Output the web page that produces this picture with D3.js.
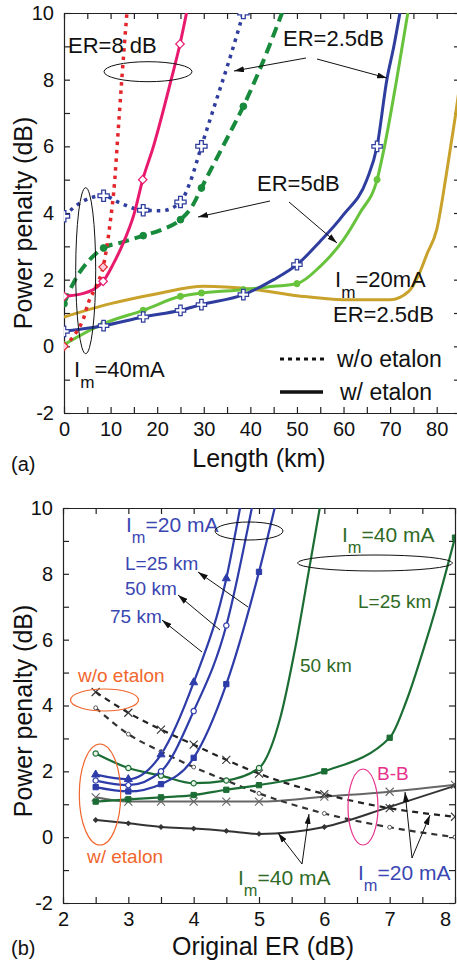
<!DOCTYPE html>
<html><head><meta charset="utf-8">
<script src="https://cdn.jsdelivr.net/npm/d3@7"></script>
<style>
html,body{margin:0;padding:0;background:#fff;overflow:hidden}
svg{display:block}
svg text{font-family:"Liberation Sans",Arial,Helvetica,sans-serif}
</style>
</head><body>
<svg id="c" width="457" height="964"></svg>
<script>
// ---------------- Panel (a) data: Length (km) vs Power penalty (dB)
const aXTicks = [0,5,10,15,20,25,30,35,40,45,50,55,60,65,70,75,80,85];
const aXLabels = [0,10,20,30,40,50,60,70,80];
const aYTicks = [-2,-1,0,1,2,3,4,5,6,7,8,9,10];
const aYLabels = [-2,0,2,4,6,8,10];

// ER=8 dB, w/o etalon (red dotted)
const er8NoEt = [[0,0],[3,0.5],[4.1,0.8],[5.2,1.3],[6.7,1.75],[8.4,2.38],[9.9,3.7],[10.9,5.0],[11.4,6.0],[12.4,8.0],[13.5,10]];
const er8NoEtMk = [[0,0],[8.4,2.38]];
// ER=8 dB, w/ etalon (magenta solid)
const er8Et = [[0,1.5],[4,1.58],[8.4,1.95],[10.5,2.45],[12.4,3.0],[15,3.95],[16.9,5.0],[19.2,6.0],[23,8.0],[24.9,9.07],[26.3,10]];
const er8EtMk = [[0,1.5],[8.4,1.95],[16.9,5.0],[24.9,9.07]];
// ER=2.5 dB, w/o etalon (blue dotted)
const er25NoEt = [[0,3.9],[4,4.35],[8.5,4.52],[12,4.3],[17,4.08],[21,4.07],[25,4.33],[27,4.9],[29.5,6.0],[32.5,7.3],[35.5,8.6],[38.5,10]];
const er25NoEtMk = [[0,3.9],[8.5,4.52],[17,4.08],[25,4.33],[29.5,6.0],[38.5,10]];
// ER=5 dB, w/o etalon (green dashed)
const er5NoEt = [[0,1.28],[2.4,2.0],[5.2,2.55],[8.5,2.95],[12.4,3.12],[17,3.32],[21,3.5],[25,3.8],[27.5,4.2],[29.5,4.75],[33,5.7],[35.6,6.4],[38.5,7.2],[42,8.3],[46.8,10]];
const er5NoEtMk = [[0,1.28],[8.5,2.95],[17,3.32],[25,3.8],[29.5,4.75],[38.5,7.2]];
// ER=2.5 dB, w/ etalon (blue solid)
const er25Et = [[0,0.45],[8.5,0.62],[17,0.88],[25,1.08],[29.5,1.25],[38.5,1.55],[45,2.0],[50,2.45],[55,3.15],[60,3.95],[65,5.0],[67.2,6.0],[69.3,8.0],[70.8,9.0],[72.1,10]];
const er25EtMk = [[0,0.45],[8.5,0.62],[17,0.88],[25,1.08],[29.5,1.25],[38.5,1.55],[50,2.45],[67.2,6.0]];
// ER=5 dB, w/ etalon (light green solid)
const er5Et = [[0,0.05],[8.5,0.68],[17,1.08],[25,1.5],[29.5,1.6],[38.5,1.7],[45,1.8],[50,1.88],[55,2.4],[60,3.2],[63.5,4.0],[67.2,5.0],[68.8,6.0],[71.4,8.0],[73.8,10]];
const er5EtMk = [[0,0.05],[8.5,0.68],[17,1.08],[25,1.5],[29.5,1.6],[38.5,1.7],[50,1.88],[67.2,5.0]];
// Im=20 mA, ER=2.5 dB (gold solid)
const im20 = [[0,0.88],[10,1.28],[20,1.58],[30,1.8],[40,1.72],[50,1.52],[60,1.4],[70,1.4],[74,1.65],[76,2.1],[78,2.8],[80,3.5],[82,5.1],[83,6.0],[84,6.9],[85,7.9]];

// ---------------- Panel (b) data: Original ER (dB) vs Power penalty (dB)
const bXTicks = [2,2.5,3,3.5,4,4.5,5,5.5,6,6.5,7,7.5,8];
const bXLabels = [2,3,4,5,6,7,8];
const bYTicks = [-2,-1,0,1,2,3,4,5,6,7,8,9,10];
const bYLabels = [-2,0,2,4,6,8,10];

// Im=20 mA with etalon (blue)
const b20L25Mk = [[2.5,1.9],[3,1.76],[3.5,2.51],[4,4.7],[4.5,7.86]];
const b20L25 = [[2.5,1.9],[3,1.76],[3.5,2.51],[4,4.7],[4.5,7.86],[4.71,10]];
const b20L50Mk = [[2.5,1.72],[3,1.58],[3.5,2.0],[4,3.83],[4.5,6.43]];
const b20L50 = [[2.5,1.72],[3,1.58],[3.5,2.0],[4,3.83],[4.5,6.43],[4.89,10]];
const b20L75Mk = [[2.5,1.52],[3,1.39],[3.5,1.61],[4,2.41],[4.5,4.65],[5,8.06]];
const b20L75 = [[2.5,1.52],[3,1.39],[3.5,1.61],[4,2.41],[4.5,4.65],[5,8.06],[5.24,10]];
// Im=40 mA with etalon (green)
const b40L50Mk = [[2.5,2.54],[3,2.1],[3.5,1.87],[4,1.64],[4.5,1.72],[5,2.1]];
const b40L50 = [[2.5,2.54],[3,2.1],[3.5,1.87],[4,1.64],[4.5,1.72],[5,2.1],[5.32,3.58],[5.55,5.7],[5.76,8.06],[5.93,10]];
const b40L25Mk = [[2.5,1.08],[3,1.15],[3.5,1.21],[4,1.28],[4.5,1.44],[5,1.58],[6,2.0],[7,3.02],[8,9.1]];
const b40L25 = [[2.5,1.08],[3,1.15],[3.5,1.21],[4,1.28],[4.5,1.44],[5,1.58],[6,2.0],[7,3.02],[7.26,4.16],[7.52,5.72],[7.72,7.04],[8,9.1]];
// w/o etalon (dashed)
const bNo20 = [[2.5,4.41],[3,3.78],[3.5,3.27],[4,2.81],[4.5,2.35],[5,1.93],[6,1.31],[7,0.88],[8,0.62]];
const bNo40 = [[2.5,3.93],[3,3.13],[3.5,2.6],[4,2.13],[4.5,1.72],[5,1.33],[6,0.72],[7,0.3],[8,0.0]];
// back-to-back (solid grey / dark)
const bBB20 = [[2.5,1.21],[3,1.08],[3.5,1.08],[4,1.08],[4.5,1.08],[5,1.08],[6,1.23],[7,1.38],[8,1.59]];
const bBB40 = [[2.5,0.52],[3,0.42],[3.5,0.31],[4,0.26],[4.5,0.19],[5,0.1],[6,0.31],[7,0.92],[8,1.56]];

// ---------------- drawing
const svg = d3.select('#c');
const A = {l:64, r:460, t:13, b:413};
const B = {l:63, r:455, t:508, b:903};
const xA = d3.scaleLinear().domain([0,85]).range([A.l,A.r]);
const yA = d3.scaleLinear().domain([-2,10]).range([A.b,A.t]);
const xB = d3.scaleLinear().domain([2,8]).range([B.l,B.r]);
const yB = d3.scaleLinear().domain([-2,10]).range([B.b,B.t]);

const defs = svg.append('defs');
defs.append('clipPath').attr('id','clipA').append('rect').attr('x',A.l).attr('y',A.t).attr('width',A.r-A.l).attr('height',A.b-A.t);
defs.append('clipPath').attr('id','clipB').append('rect').attr('x',B.l).attr('y',B.t).attr('width',B.r-B.l).attr('height',B.b-B.t);
defs.append('marker').attr('id','arr').attr('viewBox','0 0 10 6').attr('refX',10).attr('refY',3)
  .attr('markerWidth',10).attr('markerHeight',6).attr('markerUnits','userSpaceOnUse').attr('orient','auto')
  .append('path').attr('d','M0,0L10,3L0,6Z').attr('fill','#111');

function axes(x, y, box, xVals, xLab, yVals, yLab) {
  const g = svg.append('g').attr('font-size',20);
  const fx = d => xLab.includes(d) ? String(d) : '';
  const fy = d => yLab.includes(d) ? String(d) : '';
  const xg = g.append('g').attr('transform',`translate(0,${box.b})`)
    .call(d3.axisBottom(x).tickValues(xVals).tickFormat(fx).tickSize(-6).tickSizeOuter(0).tickPadding(9));
  g.append('g').attr('transform',`translate(0,${box.t})`)
    .call(d3.axisTop(x).tickValues(xVals).tickFormat('').tickSize(-6).tickSizeOuter(0));
  g.append('g').attr('transform',`translate(${box.l},0)`)
    .call(d3.axisLeft(y).tickValues(yVals).tickFormat(fy).tickSize(-6).tickSizeOuter(0).tickPadding(10));
  g.append('g').attr('transform',`translate(${box.r},0)`)
    .call(d3.axisRight(y).tickValues(yVals).tickFormat('').tickSize(-6).tickSizeOuter(0));
  g.selectAll('text').attr('font-family','"Liberation Sans",Arial,sans-serif').attr('font-size',20).attr('fill','#111');
  g.selectAll('path,line').attr('stroke','#222').attr('stroke-width',1.2);
  // keep a label that would run past the page edge inside it
  xg.selectAll('.tick text').each(function(d) {
    const r = x(d) + 12;
    if (r > 457) d3.select(this).attr('dx', 457 - r);
  });
}
axes(xA,yA,A,aXTicks,aXLabels,aYTicks,aYLabels);
axes(xB,yB,B,bXTicks,bXLabels,bYTicks,bYLabels);

const gA = svg.append('g').attr('clip-path','url(#clipA)');
const gB = svg.append('g').attr('clip-path','url(#clipB)');

function line(g, x, y, pts, color, w, dash) {
  const l = d3.line().x(d=>x(d[0])).y(d=>y(d[1])).curve(d3.curveMonotoneX);
  g.append('path').attr('d', l(pts)).attr('fill','none').attr('stroke',color)
   .attr('stroke-width',w).attr('stroke-dasharray',dash||null).attr('stroke-linejoin','round');
}
function marks(g, x, y, pts, type, stroke, fill, size, sw) {
  const sel = g.append('g');
  pts.forEach(d => {
    const cx = x(d[0]), cy = y(d[1]);
    if (type === 'x') {
      const s = size/2;
      sel.append('path').attr('d',`M${cx-s},${cy-s}L${cx+s},${cy+s}M${cx-s},${cy+s}L${cx+s},${cy-s}`)
        .attr('stroke',stroke).attr('stroke-width',sw||1.2).attr('fill','none');
      return;
    }
    const map = {diamond:d3.symbolSquare, cross:d3.symbolCross, circle:d3.symbolCircle, triangle:d3.symbolTriangle, square:d3.symbolSquare};
    sel.append('path').attr('d', d3.symbol(map[type], size)())
      .attr('transform', `translate(${cx},${cy})` + (type==='diamond' ? ' rotate(45)' : ''))
      .attr('stroke', stroke).attr('fill', fill).attr('stroke-width', sw||1.2);
  });
}

// Panel (a) series
const C = {red:'#e3262c', mag:'#e81a6d', blue:'#2f3d9e', dgreen:'#178a3b', lgreen:'#68c33c', gold:'#c9a22b'};
line(gA,xA,yA,im20,C.gold,3);
line(gA,xA,yA,er5Et,C.lgreen,3);
line(gA,xA,yA,er25Et,C.blue,3);
line(gA,xA,yA,er5NoEt,C.dgreen,4,'11,6');
line(gA,xA,yA,er25NoEt,C.blue,3.5,'3.5,5');
line(gA,xA,yA,er8Et,C.mag,3);
line(gA,xA,yA,er8NoEt,C.red,3.5,'3.5,5');
marks(gA,xA,yA,er5EtMk,'circle',C.lgreen,C.lgreen,30,1);
marks(gA,xA,yA,er25EtMk,'cross',C.blue,'#fff',60,1.2);
marks(gA,xA,yA,er5NoEtMk,'circle',C.dgreen,C.dgreen,36,1);
marks(gA,xA,yA,er25NoEtMk,'cross',C.blue,'#fff',70,1.3);
marks(gA,xA,yA,er8EtMk,'diamond',C.mag,'#fff',36,1.2);
marks(gA,xA,yA,er8NoEtMk,'diamond',C.red,'#fcd',36,1.2);

// Panel (b) series
const CB = {blue:'#2d3ca8', green:'#1b6d34', black:'#222', grey:'#666', dark:'#333'};
line(gB,xB,yB,bBB40,CB.dark,2);
line(gB,xB,yB,bBB20,CB.grey,2);
line(gB,xB,yB,bNo40,CB.dark,2.2,'6,5');
line(gB,xB,yB,bNo20,CB.black,2.2,'6,5');
line(gB,xB,yB,b40L25,CB.green,2.2);
line(gB,xB,yB,b40L50,CB.green,2.2);
line(gB,xB,yB,b20L75,CB.blue,2.2);
line(gB,xB,yB,b20L50,CB.blue,2.2);
line(gB,xB,yB,b20L25,CB.blue,2.2);
marks(gB,xB,yB,bBB40,'diamond',CB.dark,CB.dark,10,1);
marks(gB,xB,yB,bBB20,'x',CB.grey,'none',8,1.1);
marks(gB,xB,yB,bNo40,'circle','#555','#fff',12,1);
marks(gB,xB,yB,bNo20,'x','#333','none',8,1.1);
marks(gB,xB,yB,b40L25Mk,'square',CB.green,CB.green,28,1);
marks(gB,xB,yB,b40L50Mk,'circle',CB.green,'#e8f2e8',22,1.2);
marks(gB,xB,yB,b20L75Mk,'square',CB.blue,CB.blue,28,1);
marks(gB,xB,yB,b20L50Mk,'circle',CB.blue,'#fff',22,1.2);
marks(gB,xB,yB,b20L25Mk,'triangle',CB.blue,CB.blue,28,1);

// ---------------- annotations
const ann = svg.append('g');
function txt(x, y, s, size, color, anchor) {
  return ann.append('text').attr('x',x).attr('y',y).attr('font-size',size).attr('fill',color||'#111')
    .attr('text-anchor',anchor||'start').text(s);
}
function subTxt(x, y, rest, size, color) {
  const t = ann.append('text').attr('x',x).attr('y',y).attr('font-size',size).attr('fill',color||'#111');
  t.append('tspan').text('I');
  t.append('tspan').attr('font-size',size*0.78).attr('dy',size*0.5).text('m');
  t.append('tspan').attr('dy',-size*0.5).text(rest);
}
function ell(cx, cy, rx, ry, color, w) {
  ann.append('ellipse').attr('cx',cx).attr('cy',cy).attr('rx',rx).attr('ry',ry)
    .attr('fill','none').attr('stroke',color||'#111').attr('stroke-width',w||1);
}
function arrow(x1,y1,x2,y2) {
  ann.append('line').attr('x1',x1).attr('y1',y1).attr('x2',x2).attr('y2',y2)
    .attr('stroke','#111').attr('stroke-width',1).attr('marker-end','url(#arr)');
}

// panel (a)
txt(68,53,'ER=8 dB',22);
ell(148,71.7,44,10);
txt(283,46,'ER=2.5dB',22);
arrow(306,58,234,71);
arrow(317,59,387,78);
txt(257,191,'ER=5dB',22);
arrow(270,201,198,217);
arrow(289,202,337,243);
ell(85.7,270.7,10,83);
subTxt(74,377,'=40mA',22);
subTxt(335,287,'=20mA',22);
txt(333,322,'ER=2.5dB',22);
ann.append('line').attr('x1',280).attr('y1',359).attr('x2',327).attr('y2',359)
  .attr('stroke','#111').attr('stroke-width',3).attr('stroke-dasharray','4,4');
ann.append('line').attr('x1',280).attr('y1',392).attr('x2',323).attr('y2',392)
  .attr('stroke','#111').attr('stroke-width',3.5);
txt(337,367,'w/o etalon',23);
txt(340,400,'w/ etalon',23);
txt(259,467,'Length (km)',25,'#111','middle');
ann.append('text').attr('transform','translate(32,223) rotate(-90)').attr('text-anchor','middle')
  .attr('font-size',25).attr('fill','#111').text('Power penalty (dB)');
txt(11,471,'(a)',20);

// panel (b)
const tBlue = '#3a46b2', tGreen = '#2f6b26', tOr = '#f0662c', tMag = '#e6318c';
subTxt(126,532,'=20 mA',21,tBlue);
ell(249,531,34,9);
txt(125,570,'L=25 km',19,tBlue);
txt(125,595,'50 km',19,tBlue);
txt(110,623,'75 km',19,tBlue);
arrow(248,607,198,572);
arrow(220,630,178,595);
arrow(202,652,162,620);
subTxt(342,542,'=40 mA',21,tGreen);
ell(375,563,77.5,8);
txt(358,608,'L=25 km',19,tGreen);
txt(300,672,'50 km',19,tGreen);
txt(78,682,'w/o etalon',19,tOr);
ell(104.5,700,34,11,tOr,1.2);
txt(87,863,'w/ etalon',19,tOr);
ell(100,794.5,20.7,50.5,tOr,1.2);
txt(377,780,'B-B',19,tMag);
ell(363,807,15,38,tMag,1.2);
subTxt(238,885,'=40 mA',21,tGreen);
arrow(302,864,278,833);
arrow(302,864,309,814);
subTxt(358,880,'=20 mA',21,tBlue);
arrow(412,858,405,792);
arrow(412,858,430,815);
txt(263,955,'Original ER (dB)',25,'#111','middle');
ann.append('text').attr('transform','translate(32,711) rotate(-90)').attr('text-anchor','middle')
  .attr('font-size',25).attr('fill','#111').text('Power penalty (dB)');
txt(11,955,'(b)',20);
</script>
</body></html>
